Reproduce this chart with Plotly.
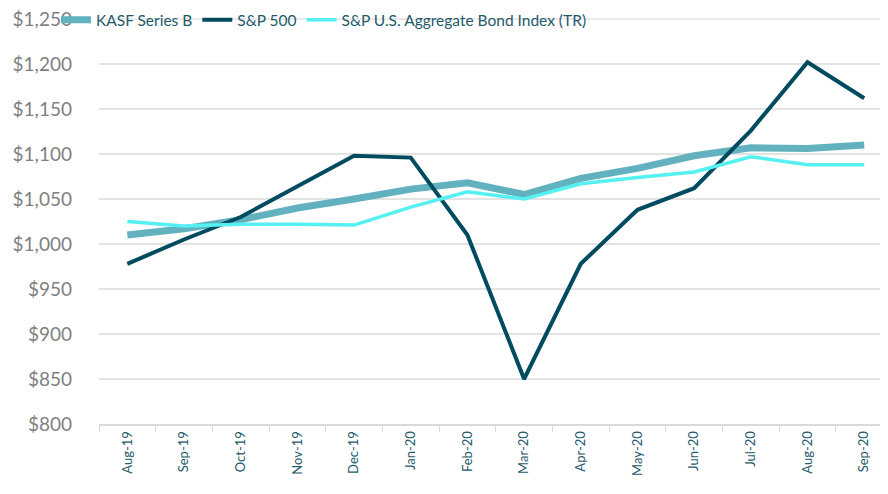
import plotly.graph_objects as go

months = ["Aug-19", "Sep-19", "Oct-19", "Nov-19", "Dec-19", "Jan-20", "Feb-20",
          "Mar-20", "Apr-20", "May-20", "Jun-20", "Jul-20", "Aug-20", "Sep-20"]
kasf = [1010, 1017, 1027, 1040, 1050, 1061, 1068, 1055, 1073, 1084, 1098, 1107, 1106, 1110]
sp500 = [978, 1005, 1030, 1064, 1098, 1096, 1010, 850, 978, 1038, 1062, 1126, 1202, 1162]
bond = [1025, 1020, 1022, 1022, 1021, 1041, 1058, 1050, 1067, 1074, 1080, 1097, 1088, 1088]
y_ticks = [800, 850, 900, 950, 1000, 1050, 1100, 1150, 1200, 1250]
y_labels = ["$800", "$850", "$900", "$950", "$1,000", "$1,050", "$1,100", "$1,150", "$1,200", "$1,250"]
y_min, y_max = 800, 1250

fig = go.Figure()
fig.add_trace(go.Scatter(x=months, y=kasf, mode="lines", name="KASF Series B",
                         line=dict(color="#62B1BF", width=7)))
fig.add_trace(go.Scatter(x=months, y=sp500, mode="lines", name="S&P 500",
                         line=dict(color="#004B60", width=4)))
fig.add_trace(go.Scatter(x=months, y=bond, mode="lines", name="S&P U.S. Aggregate Bond Index (TR)",
                         line=dict(color="#55F0F2", width=3.5)))

# top gridline at the upper edge of the plot area (y = y_max)
fig.add_shape(type="line", xref="paper", x0=0, x1=1, yref="paper", y0=1, y1=1,
              line=dict(color="#E3E3E3", width=1.5), layer="below")

fig.update_layout(
    width=880, height=486,
    margin=dict(l=91, r=0, t=11, b=70, autoexpand=False),
    plot_bgcolor="white", paper_bgcolor="white",
    font=dict(family="Lato, sans-serif"),
    legend=dict(orientation="h", xref="container", yref="container",
                x=0.0545, xanchor="left", y=0.975, yanchor="middle",
                bgcolor="rgba(0,0,0,0)", font=dict(size=15.5, color="#1F5A6B"),
                itemwidth=30, tracegroupgap=0),
    showlegend=True,
)
fig.update_xaxes(type="category", range=[-0.5, 13.42], showgrid=False,
                 showline=True, linecolor="#D9D9D9", linewidth=2,
                 ticks="outside", tickson="boundaries", ticklen=6, tickcolor="#D9D9D9",
                 tickangle=-90, tickfont=dict(size=13, color="#1F5A6B"))
fig.update_yaxes(range=[y_min, y_max], tickvals=y_ticks, ticktext=y_labels,
                 showgrid=True, gridcolor="#E3E3E3", gridwidth=1.5, zeroline=False,
                 showline=False, ticks="", ticklabelstandoff=26,
                 ticklabeloverflow="allow",
                 tickfont=dict(size=19, color="#7F7F7F"))

fig.write_html("out.html")
